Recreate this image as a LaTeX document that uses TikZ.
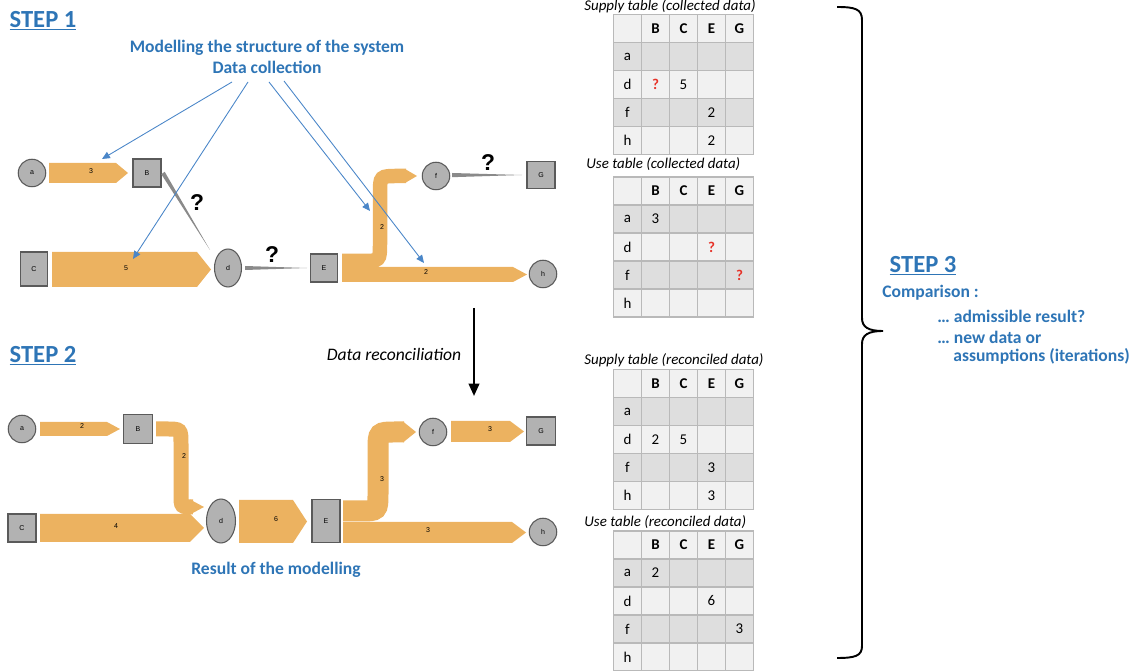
\documentclass[tikz,border=0pt]{standalone}
\usepackage{fontspec}
\setmainfont{Carlito}
\newfontfamily\arialfont{Liberation Sans}
\usetikzlibrary{arrows.meta,matrix,shapes.geometric}

\definecolor{stepblue}{RGB}{46,117,182}
\definecolor{flowor}{RGB}{236,178,96}
\definecolor{nodegray}{RGB}{178,178,178}
\definecolor{nodeline}{RGB}{90,90,90}
\definecolor{linkblue}{RGB}{74,134,200}
\definecolor{tbllight}{RGB}{241,241,241}
\definecolor{tbldark}{RGB}{222,222,222}
\definecolor{tblline}{RGB}{185,185,185}
\definecolor{qred}{RGB}{230,50,40}
\definecolor{wedgegray}{RGB}{138,138,138}

\newcommand{\redq}{\textcolor{qred}{\textbf{?}}}

\begin{document}
\begin{tikzpicture}[x=0.02cm,y=-0.02cm,
  steptitle/.style={text=stepblue,inner sep=0pt,font=\fontsize{14}{16}\selectfont\bfseries},
  bluetext/.style={text=stepblue,inner sep=0pt,font=\fontsize{10}{12}\selectfont\bfseries},
  proc/.style={draw=nodeline,fill=nodegray,line width=0.6pt,inner sep=0pt,font=\arialfont\fontsize{4}{5}\selectfont},
  sq/.style={proc,rectangle},
  rnd/.style={proc,circle,minimum size=0.55cm},
  flow/.style={fill=flowor},
  band/.style={draw=flowor},
  flowlbl/.style={inner sep=0pt,font=\arialfont\fontsize{4}{5}\selectfont},
  qmark/.style={inner sep=0pt,font=\arialfont\bfseries\fontsize{13}{15}\selectfont},
  wedge/.style={fill=wedgegray},
  info/.style={draw=linkblue,line width=0.5pt,-{Triangle[length=4.5pt,width=4pt]}},
  cell/.style={draw=tblline,line width=1pt,fill=tbllight,minimum width=0.56cm,minimum height=0.56cm,inner sep=0pt,anchor=center,font=\fontsize{8.5}{10}\selectfont},
  tbl/.style={matrix of nodes,nodes in empty cells,nodes={cell},column sep=-1pt,row sep=-1pt,
    row 2/.style={nodes={fill=tbldark}},row 4/.style={nodes={fill=tbldark}}},
  tbltitle/.style={anchor=west,inner sep=0pt,font=\fontsize{8.5}{10}\selectfont\itshape}
]
\useasboundingbox (0,0) rectangle (1133,671);

% step 1 : collected data
\node[steptitle] (st1) at (43,21) {\underline{STEP 1}};
\node[bluetext,align=center] (ttl) at (267,57) {Modelling the structure of the system\\Data collection};

\node[rnd] (a1) at (32,173) {a};
\node[sq,minimum size=0.56cm] (B1) at (147,173) {B};
\node[sq,minimum width=0.54cm,minimum height=0.68cm] (C1) at (34,269) {C};
\node[proc,ellipse,minimum width=0.54cm,minimum height=0.76cm] (d1) at (228,268) {d};
\node[sq,minimum width=0.54cm,minimum height=0.56cm] (E1) at (324,268) {E};
\node[rnd] (f1) at (436,176) {f};
\node[sq,minimum width=0.56cm,minimum height=0.54cm] (G1) at (541,175) {G};
\node[rnd] (h1) at (543,274) {h};

\fill[flow] (49,163) -- (116,163) -- (128,173) -- (116,183) -- (49,183) -- cycle;
\node[flowlbl] (fl1) at (91,171) {3};
\fill[flow] (52,252) -- (197,252) -- (211,269.5) -- (197,287) -- (52,287) -- cycle;
\node[flowlbl] (fl2) at (126,268) {5};
\fill[flow] (342,267) -- (513,267) -- (527,274.5) -- (513,282) -- (342,282) -- cycle;
\node[flowlbl] (fl3) at (426,272) {2};
\draw[band,line width=0.29cm] (342,261) -- (362,261) .. controls (380,261) .. (380,243)
  -- (380,194) .. controls (380,176) .. (398,176) -- (406,176);
\fill[flow] (405,169) -- (417,176) -- (405,183) -- cycle;
\node[flowlbl] (fl4) at (382,227) {2};

\fill[wedge] (161.3,174.2) -- (164.7,171.8) -- (210,250) -- cycle;
\fill[wedge] (245,266) -- (307,268) -- (245,270) -- cycle;
\fill[wedge] (452,173) -- (522,175) -- (452,177.2) -- cycle;
\node[qmark] (q1) at (197,203) {?};
\node[qmark] (q2) at (272,255) {?};
\node[qmark] (q3) at (488,163) {?};

\coordinate (s1) at (232,82);
\coordinate (s2) at (248,82);
\coordinate (s3) at (269,82);
\coordinate (s4) at (284,81);
\coordinate (e1) at (102,159);
\coordinate (e2) at (133,259);
\coordinate (e3) at (370,211);
\coordinate (e4) at (424,263);
\draw[info] (s1) -- (e1);
\draw[info] (s2) -- (e2);
\draw[info] (s3) -- (e3);
\draw[info] (s4) -- (e4);

% reconciliation
\coordinate (rc0) at (474,308);
\coordinate (rc1) at (474,396);
\draw[line width=1.2pt,-{Triangle[length=7pt,width=6pt]}] (rc0) -- (rc1);
\node[inner sep=0pt,font=\fontsize{10}{12}\selectfont\itshape] (rec) at (394,354) {Data reconciliation};

% step 2 : reconciled data
\node[steptitle] (st2) at (43,356) {\underline{STEP 2}};

\node[rnd] (a2) at (22,429) {a};
\node[sq,minimum size=0.58cm] (B2) at (138,429) {B};
\node[sq,minimum size=0.56cm] (C2) at (22,528) {C};
\node[proc,ellipse,minimum width=0.58cm,minimum height=0.88cm] (d2) at (221,521) {d};
\node[sq,minimum width=0.56cm,minimum height=0.86cm] (E2) at (326,521) {E};
\node[rnd] (f2) at (433,432) {f};
\node[sq,minimum width=0.58cm,minimum height=0.56cm] (G2) at (541,431) {G};
\node[rnd] (h2) at (543,532) {h};

\fill[flow] (40,422) -- (107,422) -- (120,429) -- (107,436) -- (40,436) -- cycle;
\node[flowlbl] (gl1) at (82,426) {2};
\draw[band,line width=0.3cm] (156,429) -- (166,429) .. controls (181,429) .. (181,444)
  -- (181,495) .. controls (181,507) .. (193,507);
\fill[flow] (190,499.5) -- (204,507) -- (190,514.5) -- cycle;
\node[flowlbl] (gl2) at (184,456) {2};
\fill[flow] (40,514) -- (190,514) -- (204,528) -- (190,542) -- (40,542) -- cycle;
\node[flowlbl] (gl3) at (116,526) {4};
\fill[flow] (239,500) -- (293,500) -- (307,521.5) -- (293,543) -- (239,543) -- cycle;
\node[flowlbl] (gl4) at (276,519) {6};
\fill[flow] (343,522) -- (512,522) -- (526,532.5) -- (512,543) -- (343,543) -- cycle;
\node[flowlbl] (gl5) at (428,530) {3};
\draw[band,line width=0.42cm] (343,511) -- (360,511) .. controls (378,511) .. (378,493)
  -- (378,450) .. controls (378,432) .. (396,432) -- (404,432);
\fill[flow] (403,421.5) -- (416,432) -- (403,442.5) -- cycle;
\node[flowlbl] (gl6) at (382,479) {3};
\fill[flow] (451,421) -- (510,421) -- (524,431.5) -- (510,442) -- (451,442) -- cycle;
\node[flowlbl] (gl7) at (490,429) {3};

\node[bluetext] (res) at (276,570) {Result of the modelling};

% tables
\node[tbltitle] (tt1) at (584,6) {Supply table (collected data)};
\matrix[tbl] (sup1) at (683.5,84.5) {
  & \textbf{B} & \textbf{C} & \textbf{E} & \textbf{G} \\
|[fill=tbldark]| a &  &  &  &  \\
d & \redq & 5 &  &  \\
|[fill=tbldark]| f &  &  & 2 &  \\
h &  &  & 2 &  \\
};
\node[tbltitle] (tt2) at (586,164) {Use table (collected data)};
\matrix[tbl] (use1) at (683.5,247) {
  & \textbf{B} & \textbf{C} & \textbf{E} & \textbf{G} \\
|[fill=tbldark]| a & 3 &  &  &  \\
d &  &  & \redq &  \\
|[fill=tbldark]| f &  &  &  & \redq \\
h &  &  &  &  \\
};
\node[tbltitle] (tt3) at (584,360) {Supply table (reconciled data)};
\matrix[tbl] (sup2) at (683.5,439.5) {
  & \textbf{B} & \textbf{C} & \textbf{E} & \textbf{G} \\
|[fill=tbldark]| a &  &  &  &  \\
d & 2 & 5 &  &  \\
|[fill=tbldark]| f &  &  & 3 &  \\
h &  &  & 3 &  \\
};
\node[tbltitle] (tt4) at (584,522) {Use table (reconciled data)};
\matrix[tbl] (use2) at (683.5,601) {
  & \textbf{B} & \textbf{C} & \textbf{E} & \textbf{G} \\
|[fill=tbldark]| a & 2 &  &  &  \\
d &  &  & 6 &  \\
|[fill=tbldark]| f &  &  &  & 3 \\
h &  &  &  &  \\
};

% step 3
\draw[line width=1.1pt] (837,7) .. controls (855,7) and (862,9) .. (862,20) -- (862,318)
  .. controls (862,327) and (868,331) .. (883,331)
  .. controls (868,331) and (862,335) .. (862,344) -- (862,646)
  .. controls (862,656) and (855,658) .. (837,658);
\node[steptitle] (st3) at (923,266) {\underline{STEP 3}};
\node[bluetext,anchor=west] (cmp) at (882,293) {Comparison :};
\node[bluetext,anchor=west] (cmp1) at (937,316) {… admissible result?};
\node[bluetext,anchor=west] (cmp2) at (937,337) {… new data or};
\node[bluetext,anchor=west] (cmp3) at (953,356) {assumptions (iterations)};
\end{tikzpicture}
\end{document}
